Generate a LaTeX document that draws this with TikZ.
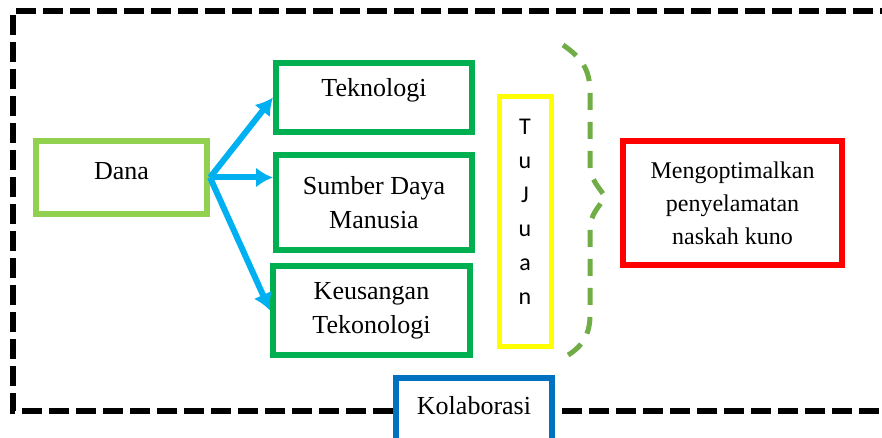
\documentclass[tikz,border=0pt]{standalone}
\usepackage{fontspec}
\setmainfont{Liberation Serif}
\newfontfamily\tujuanfont{Carlito}
\usetikzlibrary{arrows.meta}
\definecolor{hijaumuda}{HTML}{92D050}
\definecolor{hijau}{HTML}{00B050}
\definecolor{kuning}{HTML}{FFFF00}
\definecolor{merah}{HTML}{FF0000}
\definecolor{biru}{HTML}{0070C0}
\definecolor{cyanpanah}{HTML}{00B0F0}
\definecolor{hijaukurung}{HTML}{70AD47}

\begin{document}
\begin{tikzpicture}[x=1pt,y=-1pt,
  box/.style={draw,line width=6pt,fill=white,align=center,inner sep=0pt,font=\fontsize{26}{34}\selectfont},
  panah/.style={draw=cyanpanah,line width=6pt,-{Latex[length=17pt,width=20pt]}}]
  \clip (0,0) rectangle (882,438);
  \draw[line width=5.5pt,dash pattern=on 20pt off 7pt] (900,11) -- (13,11) -- (13,411) -- (900,411);
  \node[box,draw=hijaumuda,minimum width=171pt,minimum height=73pt,text depth=14pt] (dana) at (121.5,177.5) {Dana};
  \node[box,draw=hijau,minimum width=196pt,minimum height=69pt,text depth=20pt] (teknologi) at (374,97.5) {Teknologi};
  \node[box,draw=hijau,minimum width=196pt,minimum height=95pt] (sdm) at (374,202.5) {Sumber Daya\\Manusia};
  \node[box,draw=hijau,minimum width=197pt,minimum height=89pt] (keusangan) at (371.5,310.5) {Keusangan\\Tekonologi};
  \node[box,draw=kuning,line width=5pt,minimum width=52pt,minimum height=249pt] (tujuan) at (525,221.5) {};
  \node[font=\tujuanfont\fontsize{24}{34}\selectfont,align=center,inner sep=0pt] (tujuanteks) at ([yshift=10pt]tujuan.center) {T\\u\\J\\u\\a\\n};
  \node[box,draw=merah,minimum width=219pt,minimum height=124pt,font=\fontsize{24}{33}\selectfont] (sasaran) at (732.5,203) {Mengoptimalkan\\penyelamatan\\naskah kuno};
  \node[box,draw=biru,minimum width=156pt,minimum height=64pt,text depth=10pt] (kolaborasi) at (474,410) {Kolaborasi};
  \draw[panah] (dana.east) -- (teknologi.west);
  \draw[panah] (dana.east) -- (dana.east -| sdm.west);
  \draw[panah] (dana.east) -- (keusangan.west);
  \draw[hijaukurung,line width=5pt,dash pattern=on 17pt off 12pt] (563,45) .. controls (582,58) and (590,70) .. (590,92) -- (590,165) .. controls (590,180) and (600,188) .. (605,197) .. controls (600,206) and (590,214) .. (590,229) -- (590,315) .. controls (590,335) and (582,348) .. (563,358);
\end{tikzpicture}
\end{document}
